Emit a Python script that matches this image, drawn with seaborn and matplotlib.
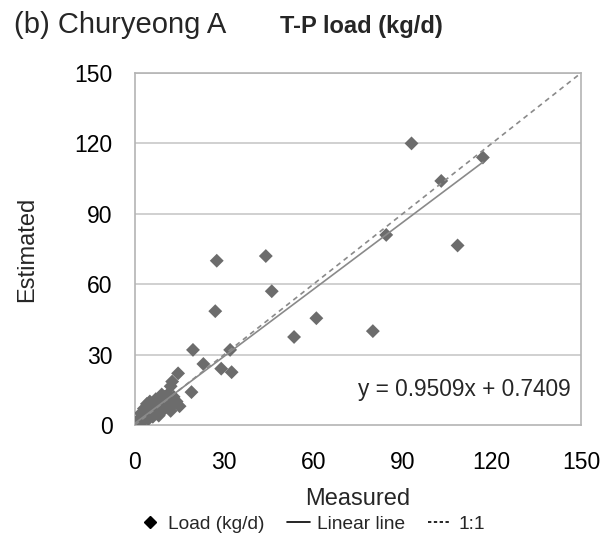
import matplotlib
matplotlib.use("Agg")
import matplotlib.pyplot as plt
import seaborn as sns
import numpy as np
import pandas as pd
from matplotlib.lines import Line2D

# ---- data ----
measured = [93, 117, 103, 84.5, 108.5, 80, 61, 53.5, 44, 46, 27.5, 27, 32, 19.5,
            23, 29, 32.5, 14.5, 12.5, 12, 19, 15,
            0.3, 0.5, 1, 1, 1.5, 2, 2, 2.5, 3, 3, 3.5, 4, 4, 4.5, 5, 5, 5.5, 6, 6,
            6.5, 7, 7, 7.5, 8, 8, 8.5, 9, 9, 9.5, 10, 10, 10.5, 11, 11, 12, 12,
            13, 13, 14, 3, 5, 7, 9, 2, 4]
estimated = [120, 114, 104, 81, 76.5, 40, 45.5, 37.5, 72, 57, 70, 48.5, 32, 32,
             26, 24, 22.5, 22, 18.5, 16.5, 14, 8,
             0.2, 1, 0.5, 2, 1, 3, 1.5, 2, 4, 2, 5, 3, 6, 2.5, 5, 7, 4, 8, 3.5,
             6, 9, 5, 7, 10, 4, 8, 11, 6, 9, 12, 7, 10, 13, 8, 11, 6,
             12, 9, 10, 7, 10, 11, 13, 5, 9]
slope = 0.9509
intercept = 0.7409
ticks = [0, 30, 60, 90, 120, 150]
panel_label = "(b) Churyeong A"
title = "T-P load (kg/d)"
equation = "y = 0.9509x + 0.7409"

df = pd.DataFrame({"Measured": measured, "Estimated": estimated})

sns.set_style("white")
plt.rcParams["font.family"] = ["Liberation Sans", "DejaVu Sans"]

fig = plt.figure(figsize=(6.13, 5.42), dpi=100)
ax = fig.add_axes([0.2202, 0.2159, 0.7276, 0.6494])

grid_c = "#c4c4c4"
for v in ticks[1:]:
    ax.axhline(v, color=grid_c, lw=1.1, zorder=0)

sns.scatterplot(data=df, x="Measured", y="Estimated", marker="D", s=50,
                color="#6c6c6c", edgecolor="none", ax=ax, zorder=3, legend=False)

xl = np.array([0, max(measured)])
ax.plot(xl, slope * xl + intercept, color="#8a8a8a", lw=1.2, zorder=4)
ax.plot([0, 150], [0, 150], color="#8a8a8a", lw=1.2, ls=(0, (3, 2.5)), zorder=4)

ax.set_xlim(0, 150)
ax.set_ylim(0, 150)
ax.set_xticks(ticks)
ax.set_yticks(ticks)
ax.tick_params(axis="both", labelsize=16.5, colors="#b0b0b0", labelcolor="black",
               length=7, width=1.1, direction="out")
ax.tick_params(axis="x", pad=12)
ax.tick_params(axis="y", length=6, pad=10)
for sp in ax.spines.values():
    sp.set_color("#b4b4b4")
    sp.set_linewidth(1.2)
ax.set_xlabel("Measured", fontsize=17, labelpad=10)
ax.set_ylabel("Estimated", fontsize=17, labelpad=26)

ax.text(146.5, 15, equation, fontsize=16.3, ha="right", va="center", zorder=5)

fig.text(0.023, 0.939, panel_label, fontsize=21, ha="left", va="baseline")
fig.text(0.457, 0.939, title, fontsize=17, fontweight="bold", ha="left", va="baseline")

handles = [
    Line2D([], [], marker="D", color="black", ls="none", markersize=6),
    Line2D([], [], color="black", lw=1.2),
    Line2D([], [], color="black", lw=1.2, ls=(0, (2, 1.5))),
]
fig.legend(handles, ["Load (kg/d)", "Linear line", "1:1"], loc="center",
           bbox_to_anchor=(0.508, 0.033), ncol=3, frameon=False, fontsize=13.8,
           handlelength=1.2, handletextpad=0.35, columnspacing=1.2)

fig.savefig("out.png", dpi=100)
